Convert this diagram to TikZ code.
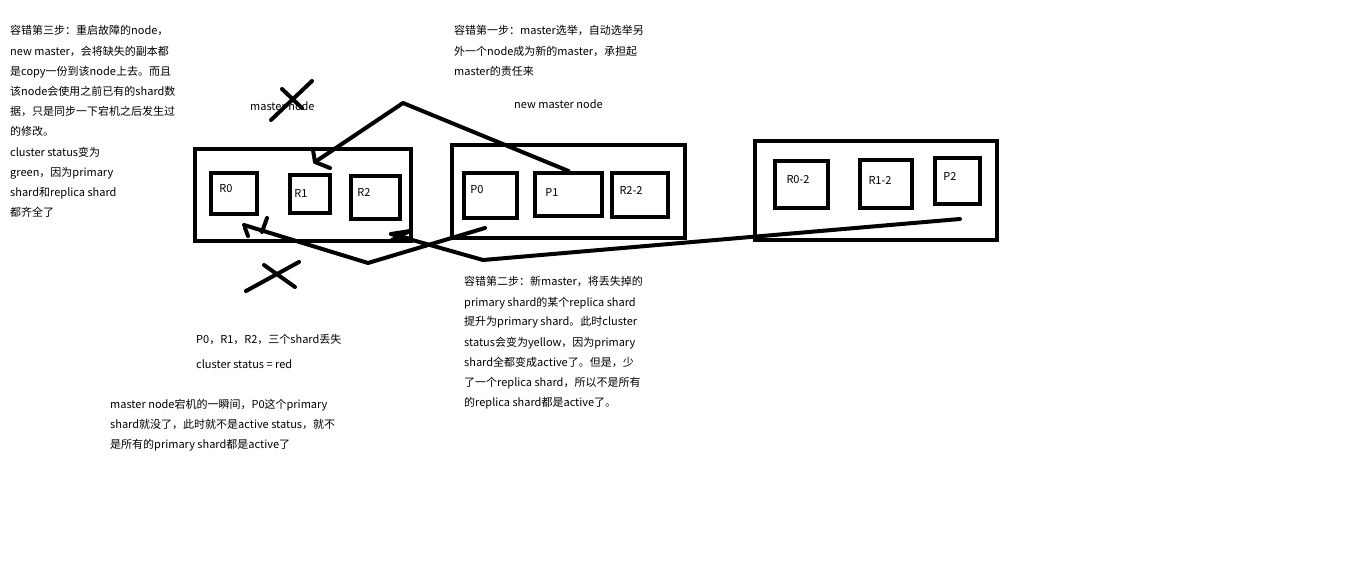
\documentclass[tikz,border=0pt]{standalone}
\usepackage{fontspec}
\setmainfont{Noto Sans CJK SC}
\begin{document}
\begin{tikzpicture}[x=1pt,y=-1pt,
  box/.style={draw=black, line width=4pt, rectangle, inner sep=0pt},
  pen/.style={line width=4pt, line cap=round, line join=round},
  txt/.style={anchor=base west, inner sep=0pt, font=\fontsize{11}{13}\selectfont},
  lbl/.style={inner sep=0pt, font=\fontsize{11}{13}\selectfont}]
\useasboundingbox (0,0) rectangle (1360,561);
\fill[white] (0,0) rectangle (1360,561);

% outer node boxes
\node[box, minimum width=216pt, minimum height=92pt] (n1) at (303,195) {};
\node[box, minimum width=233pt, minimum height=93pt] (n2) at (568.5,191.5) {};
\node[box, minimum width=242pt, minimum height=99pt] (n3) at (876,190.5) {};

% shard boxes
\node[box, minimum width=46pt, minimum height=41pt] (r0) at (234,193.5) {};
\node[box, minimum width=40pt, minimum height=38pt] (r1) at (310,194) {};
\node[box, minimum width=49pt, minimum height=43pt] (r2) at (375.5,197.5) {};
\node[box, minimum width=53pt, minimum height=45pt] (p0) at (490.5,195.5) {};
\node[box, minimum width=67pt, minimum height=43pt] (p1) at (568.5,194.5) {};
\node[box, minimum width=56pt, minimum height=44pt] (r22) at (640,195) {};
\node[box, minimum width=53pt, minimum height=47pt] (r02) at (801.5,184.5) {};
\node[box, minimum width=52pt, minimum height=48pt] (r12) at (886,184) {};
\node[box, minimum width=45pt, minimum height=46pt] (p2) at (957.5,181) {};

% shard labels
\node[lbl] (r0t) at (226,189) {R0};
\node[lbl] (r1t) at (301,193) {R1};
\node[lbl] (r2t) at (364,192) {R2};
\node[lbl] (p0t) at (477,190) {P0};
\node[lbl] (p1t) at (552,192) {P1};
\node[lbl] (r22t) at (631,190) {R2-2};
\node[lbl] (r02t) at (798,180) {R0-2};
\node[lbl] (r12t) at (880,180) {R1-2};
\node[lbl] (p2t) at (950,176) {P2};

% node titles
\node[txt] (mn) at (250,111) {master node};
\node[txt] (nmn) at (514,109) {new master node};

% connectors
\coordinate (apex) at (403,103);
\coordinate (tipU) at (315,162);
\coordinate (bu1) at (313,150);
\coordinate (bu2) at (330,168);
\draw[pen] (p1.north) -- (apex) -- (tipU);
\draw[pen] (bu1) -- (tipU) -- (bu2);

\coordinate (a0) at (485,228);
\coordinate (a1) at (368,263);
\coordinate (a2) at (244,225);
\draw[pen] (a0) -- (a1) -- (a2);
\coordinate (ta1) at (262,232);
\coordinate (ta2) at (267,218);
\coordinate (ta3) at (245,228);
\coordinate (ta4) at (248,236);
\draw[pen] (ta1) -- (ta2);
\draw[pen] (ta3) -- (ta4);

\coordinate (b0) at (960,219);
\coordinate (b1) at (483,260);
\coordinate (b2) at (391,234);
\draw[pen] (b0) -- (b1) -- (b2);
\coordinate (bb1) at (392,240);
\coordinate (bb2) at (410,231);
\coordinate (bb3) at (398,236);
\coordinate (bb4) at (411,239);
\draw[pen] (bb1) -- (bb2);
\draw[pen] (bb3) -- (bb4);
\draw[pen] (b2) -- (bb2);

% crosses
\coordinate (x1a) at (271,120);
\coordinate (x1b) at (312,81);
\coordinate (x1c) at (282,89);
\coordinate (x1d) at (302,108);
\draw[pen] (x1a) -- (x1b);
\draw[pen] (x1c) -- (x1d);
\coordinate (x2a) at (246,291);
\coordinate (x2b) at (299,262);
\coordinate (x2c) at (264,265);
\coordinate (x2d) at (295,287);
\draw[pen] (x2a) -- (x2b);
\draw[pen] (x2c) -- (x2d);

% text blocks
\foreach \s [count=\i] in {{容错第三步：重启故障的node，},{new master，会将缺失的副本都},{是copy一份到该node上去。而且},{该node会使用之前已有的shard数},{据，只是同步一下宕机之后发生过},{的修改。},{cluster status变为},{green，因为primary},{shard和replica shard},{都齐全了}}
  \node[txt] (a\i) at (10,{35+20.2*(\i-1)}) {\s};

\foreach \s [count=\i] in {{容错第一步：master选举，自动选举另},{外一个node成为新的master，承担起},{master的责任来}}
  \node[txt] (b\i) at (454,{35+20.3*(\i-1)}) {\s};

\foreach \s [count=\i] in {{容错第二步：新master，将丢失掉的},{primary shard的某个replica shard},{提升为primary shard。此时cluster},{status会变为yellow，因为primary},{shard全都变成active了。但是，少},{了一个replica shard，所以不是所有},{的replica shard都是active了。}}
  \node[txt] (c\i) at (464,{286+20*(\i-1)}) {\s};

\node[txt] (d1) at (196,343) {P0，R1，R2，三个shard丢失};
\node[txt] (d2) at (196,368) {cluster status = red};

\foreach \s [count=\i] in {{master node宕机的一瞬间，P0这个primary},{shard就没了，此时就不是active status，就不},{是所有的primary shard都是active了}}
  \node[txt] (e\i) at (110,{408+20*(\i-1)}) {\s};
\end{tikzpicture}
\end{document}
